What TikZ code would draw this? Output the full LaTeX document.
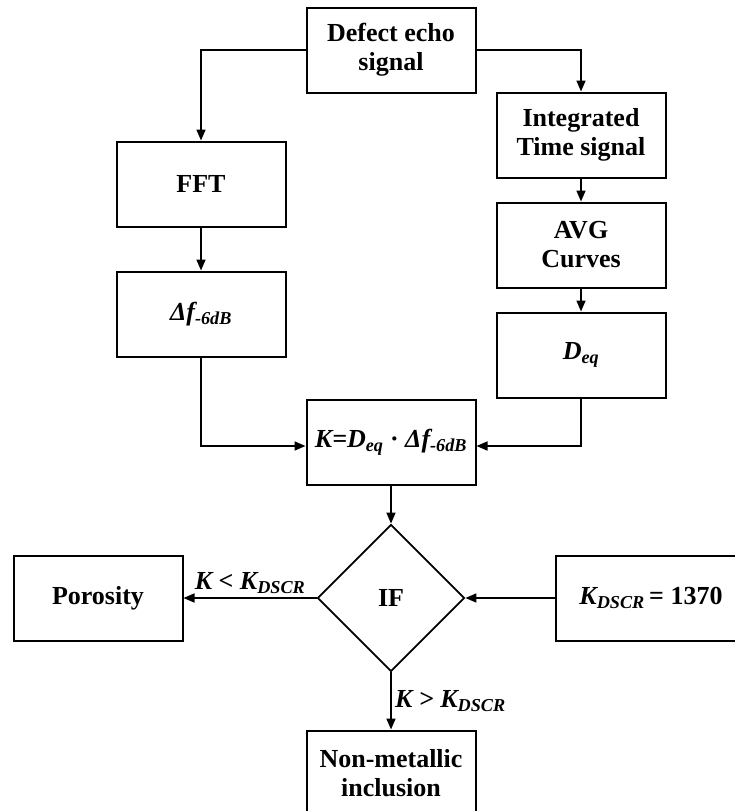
\documentclass[tikz,border=0pt]{standalone}
\usepackage{fontspec}
\setmainfont{Liberation Serif}
\usetikzlibrary{arrows.meta,shapes.geometric}

\begin{document}
\begin{tikzpicture}[x=1pt,y=-1pt]
      \tikzstyle{every node}=[font=\fontsize{26}{29}\selectfont\bfseries]
      \tikzstyle{boks}=[draw, line width=2pt, minimum width=169pt, minimum height=85pt, align=center, inner sep=0pt]
      \tikzstyle{valg}=[draw, diamond, line width=1.8pt, minimum width=147pt, minimum height=147pt, inner sep=0pt]
      \tikzstyle{pil}=[-{Triangle[length=11pt,width=9pt]}, line width=1.6pt]
      \useasboundingbox (0,0) rectangle (735,811);
      \clip (0,0) rectangle (735,811);

      \node[boks] (Echo) at (391,50) {Defect echo\\signal};
      \node[boks] (FFT) at (201,184) {FFT};
      \node[boks] (Integrated) at (581,135) {Integrated\\Time signal};
      \node[boks] (AVG) at (581,245) {AVG\\Curves};
      \node[boks] (Df) at (201,314) {\itshape Δf\textsubscript{-6dB}};
      \node[boks] (Deq) at (581,355) {\itshape D\textsubscript{eq}};
      \node[boks] (K) at (391,442) {\itshape K=D\textsubscript{eq} \upshape·\itshape{} Δf\textsubscript{-6dB}};
      \node[valg] (IF) at (391,598) {IF};
      \node[boks] (Porosity) at (98,598) {Porosity};
      \node[boks, minimum width=190pt] (Kdscr) at (651,598) {\textit{K\textsubscript{DSCR}}\,= 1370};
      \node[boks] (Inclusion) at (391,773) {Non-metallic\\inclusion};

      \draw[pil] (Echo.west) -| (FFT.north);
      \draw[pil] (Echo.east) -| (Integrated.north);
      \draw[pil] (FFT) -- (Df);
      \draw[pil] (Integrated) -- (AVG);
      \draw[pil] (AVG) -- (Deq);
      \draw[pil] (Df.south) |- ([yshift=-4pt]K.west);
      \draw[pil] (Deq.south) |- ([yshift=-4pt]K.east);
      \draw[pil] (K) -- (IF);
      \draw[pil] (IF) -- node[above] (Mindre) {\itshape K < K\textsubscript{DSCR}} (Porosity);
      \draw[pil] (Kdscr) -- (IF);
      \draw[pil] (IF) -- node[right] (Storre) {\itshape K > K\textsubscript{DSCR}} (Inclusion);

\end{tikzpicture}
\end{document}
